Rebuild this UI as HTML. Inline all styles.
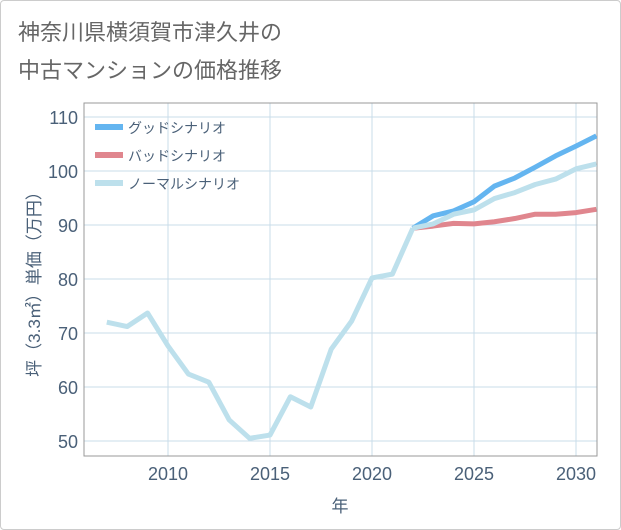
<!DOCTYPE html>
<html><head><meta charset="utf-8"><style>
body{margin:0;background:#fff;font-family:"Liberation Sans","Noto Sans CJK JP",sans-serif;}
#wrap{position:relative;width:619px;height:528px;border:1px solid #ccc;border-radius:4px;}
</style></head><body>
<div id="wrap">
<svg id="chart" width="621" height="530" style="position:absolute;left:-1px;top:-1px"></svg>
</div>
<script>
const historyYears=[2007,2008,2009,2010,2011,2012,2013,2014,2015,2016,2017,2018,2019,2020,2021,2022];
const historyValues=[72,71.2,73.7,67.6,62.4,60.9,53.9,50.5,51.1,58.2,56.3,67,72.2,80.2,80.9,89.4];
const futureYears=[2022,2023,2024,2025,2026,2027,2028,2029,2030,2031];
const goodValues=[89.4,91.7,92.6,94.3,97.2,98.7,100.7,102.8,104.6,106.5];
const badValues=[89.4,89.8,90.3,90.2,90.6,91.2,92.0,92.0,92.3,92.9];
const normalValues=[89.4,90.2,92.0,92.8,94.9,96.0,97.5,98.5,100.4,101.3];
const yTicks=[50,60,70,80,90,100,110];
const xTicks=[2010,2015,2020,2025,2030];
const NS="http://www.w3.org/2000/svg";
const svg=document.getElementById('chart');
const L=84,R=597,T=103,B=456;
const x=v=>372+(v-2020)*20.4;
const y=v=>441-(v-50)*5.4;
function mk(t,a,p){const e=document.createElementNS(NS,t);for(const k in a)e.setAttribute(k,a[k]);(p||svg).appendChild(e);return e;}
function txt(s,a){const e=mk('text',a);e.textContent=s;return e;}
let t1=txt('神奈川県横須賀市津久井の',{x:18,y:40,'font-size':22,fill:'#666'});


let t2=txt('中古マンションの価格推移',{x:18,y:78,'font-size':22,fill:'#666'});


yTicks.forEach(v=>{
 const g=mk('line',{x1:L,x2:R,y1:y(v),y2:y(v),stroke:'#c8dcea','stroke-width':1});
 
 
 const l=txt(v,{x:L-6,y:y(v)+7,'font-size':18,fill:'#4a6078','text-anchor':'end'});
 
 
});
xTicks.forEach(v=>{
 const g=mk('line',{x1:x(v),x2:x(v),y1:T,y2:B,stroke:'#c8dcea','stroke-width':1});
 
 
 const l=txt(v,{x:x(v),y:B+24,'font-size':18,fill:'#4a6078','text-anchor':'middle'});
 
 
});
const box=mk('rect',{x:L,y:T,width:R-L,height:B-T,fill:'none',stroke:'#999','stroke-width':1});


const xt=txt('年',{x:340,y:512,'font-size':17,fill:'#4a6078','text-anchor':'middle'});


const yt=txt('坪（3.3㎡）単価（万円）',{x:0,y:0,'font-size':17,fill:'#4a6078','text-anchor':'middle',transform:'translate(40,280) rotate(-90)'});


const clip=mk('clipPath',{id:'c'});mk('rect',{x:L,y:T,width:R-L,height:B-T},clip);
function line(xs,vs,color,name){
 const p=mk('polyline',{points:xs.map((d,i)=>x(d)+','+y(vs[i])).join(' '),fill:'none',stroke:color,'stroke-width':5,'stroke-linejoin':'round','clip-path':'url(#c)'});
 
 
}
line(futureYears,badValues,'#e0868e','bad-scenario-line');
line(futureYears,goodValues,'#64b5f0','good-scenario-line');
line(futureYears,normalValues,'#bde0ec','normal-scenario-line');
line(historyYears,historyValues,'#bde0ec','history-line');
[['グッドシナリオ','#64b5f0','legend-good'],['バッドシナリオ','#e0868e','legend-bad'],['ノーマルシナリオ','#bde0ec','legend-normal']].forEach((d,i)=>{
 const g=mk('g',{});
 
 
 mk('rect',{x:95,y:124+i*28,width:28,height:6,fill:d[1]},g);
 const tt=mk('text',{x:128,y:133+i*28,'font-size':14,fill:'#4a6078'},g);tt.textContent=d[0];
});
</script>
</body></html>
